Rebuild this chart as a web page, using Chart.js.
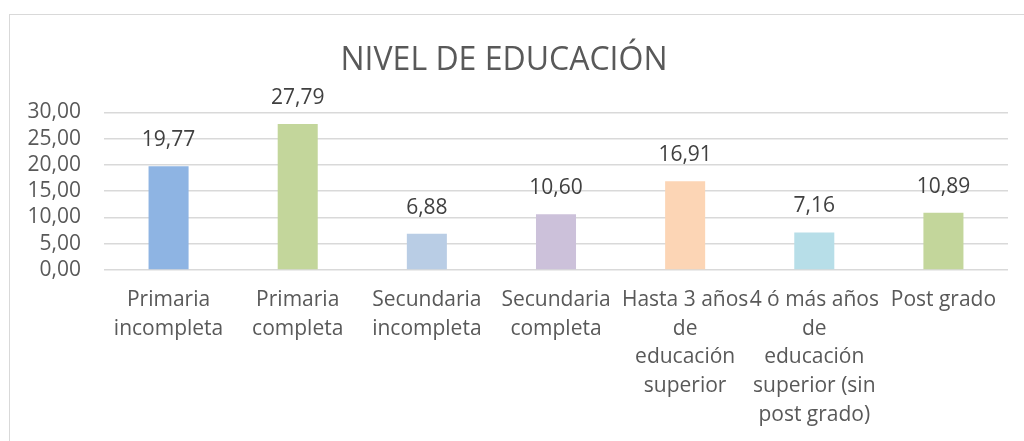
<!DOCTYPE html>
<html>
<head>
<meta charset="utf-8">
<script src="https://cdn.jsdelivr.net/npm/chart.js@4"></script>
<style>
  html, body { margin: 0; padding: 0; background: #fff; overflow: hidden; }
  #wrap { position: relative; width: 1024px; height: 441px; }
  #frame { position: absolute; left: 9px; top: 14px; width: 1040px; height: 460px; border: 1px solid #d9d9d9; box-sizing: border-box; pointer-events: none; }
  canvas { position: absolute; left: 0; top: 0; }
</style>
</head>
<body>
<div id="wrap">
  <canvas id="c" width="1024" height="441"></canvas>
  <div id="frame"></div>
</div>
<script>
const title = "NIVEL DE EDUCACIÓN";
const categories = [
  ["Primaria", "incompleta"],
  ["Primaria", "completa"],
  ["Secundaria", "incompleta"],
  ["Secundaria", "completa"],
  ["Hasta 3 años", "de", "educación", "superior"],
  ["4 ó más años", "de", "educación", "superior (sin", "post grado)"],
  ["Post grado"]
];
const values = [19.77, 27.79, 6.88, 10.60, 16.91, 7.16, 10.89];
const barColors = ["#8EB4E3", "#C3D69B", "#B9CDE5", "#CCC1DA", "#FCD5B5", "#B7DEE8", "#C3D69B"];
const yTicks = [0, 5, 10, 15, 20, 25, 30];

const fmt = v => Number(v).toFixed(2).replace('.', ',');
const FONT = "'Open Sans', sans-serif";

const valueLabels = {
  id: 'valueLabels',
  afterDatasetsDraw(chart) {
    const ctx = chart.ctx;
    const meta = chart.getDatasetMeta(0);
    ctx.save();
    ctx.font = "21px " + FONT;
    ctx.fillStyle = "#404040";
    ctx.textAlign = "center";
    ctx.textBaseline = "middle";
    meta.data.forEach((bar, i) => {
      ctx.fillText(fmt(chart.data.datasets[0].data[i]), bar.x, bar.y - 26);
    });
    ctx.restore();
  }
};

new Chart(document.getElementById('c'), {
  type: 'bar',
  data: {
    labels: categories,
    datasets: [{
      data: values,
      backgroundColor: barColors,
      borderWidth: 0,
      categoryPercentage: 1,
      barPercentage: 0.31
    }]
  },
  options: {
    responsive: false,
    animation: false,
    devicePixelRatio: 1,
    layout: { padding: { left: 0, right: 16, top: 0, bottom: 0 } },
    plugins: {
      legend: { display: false },
      tooltip: { enabled: false },
      title: {
        display: true,
        text: title,
        color: "#595959",
        font: { family: FONT, size: 32, weight: 'normal', lineHeight: 1.2 },
        padding: { top: 42, bottom: 32 }
      }
    },
    scales: {
      x: {
        grid: { display: false, drawTicks: false },
        border: { display: false },
        ticks: {
          autoSkip: false,
          maxRotation: 0,
          minRotation: 0,
          color: "#595959",
          padding: 16,
          font: { family: FONT, size: 21, lineHeight: 1.36 }
        },
        afterFit(scale) { scale.height = 171; }
      },
      y: {
        min: 0,
        max: 30,
        afterBuildTicks(scale) { scale.ticks = yTicks.map(v => ({ value: v })); },
        grid: { color: "#d9d9d9", lineWidth: 1.5, drawTicks: false },
        border: { display: false },
        ticks: {
          autoSkip: false,
          color: "#595959",
          padding: 23,
          font: { family: FONT, size: 21 },
          callback: v => fmt(v)
        },
        afterFit(scale) { scale.width = 104; }
      }
    }
  },
  plugins: [valueLabels]
});
</script>
</body>
</html>
